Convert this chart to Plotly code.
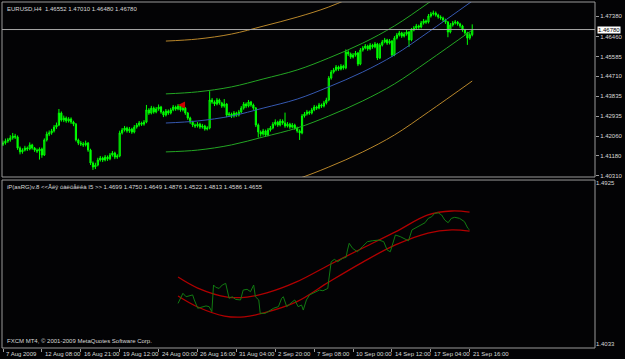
import plotly.graph_objects as go

# ---------------- data (EURUSD H4, bar index 0 = 7 Aug 2009) ----------------
opens = [
1.4170,1.4175,1.4184,1.4189,1.4198,1.4206,1.4202,1.4153,1.4136,1.4144,
1.4153,1.4149,1.4167,1.4153,1.4144,1.4140,1.4149,1.4122,1.4189,1.4215,
1.4220,1.4229,1.4246,1.4255,1.4308,1.4277,1.4286,1.4273,1.4282,1.4268,
1.4259,1.4189,1.4175,1.4171,1.4167,1.4175,1.4144,1.4087,1.4069,1.4078,
1.4100,1.4109,1.4100,1.4113,1.4105,1.4122,1.4131,1.4113,1.4118,1.4220,
1.4233,1.4242,1.4229,1.4237,1.4224,1.4246,1.4255,1.4264,1.4259,1.4268,
1.4322,1.4308,1.4330,1.4313,1.4326,1.4335,1.4313,1.4299,1.4317,1.4308,
1.4322,1.4335,1.4326,1.4339,1.4322,1.4330,1.4308,1.4286,1.4268,1.4255,
1.4251,1.4259,1.4246,1.4251,1.4237,1.4242,1.4366,1.4357,1.4348,1.4366,
1.4353,1.4339,1.4348,1.4299,1.4304,1.4295,1.4308,1.4299,1.4313,1.4330,
1.4348,1.4339,1.4357,1.4344,1.4330,1.4255,1.4224,1.4215,1.4229,1.4211,
1.4233,1.4242,1.4259,1.4268,1.4255,1.4273,1.4264,1.4251,1.4259,1.4246,
1.4255,1.4242,1.4229,1.4220,1.4295,1.4304,1.4313,1.4308,1.4322,1.4335,
1.4330,1.4344,1.4339,1.4353,1.4366,1.4463,1.4490,1.4499,1.4512,1.4503,
1.4516,1.4508,1.4578,1.4570,1.4556,1.4565,1.4574,1.4525,1.4587,1.4596,
1.4605,1.4592,1.4609,1.4601,1.4614,1.4552,1.4609,1.4623,1.4632,1.4618,
1.4627,1.4565,1.4640,1.4654,1.4663,1.4649,1.4658,1.4667,1.4632,1.4676,
1.4685,1.4694,1.4689,1.4707,1.4716,1.4711,1.4738,1.4747,1.4751,1.4742,
1.4734,1.4729,1.4720,1.4711,1.4667,1.4698,1.4707,1.4711,1.4703,1.4694,
1.4676,1.4663,1.4640,1.4655]

highs = [
1.4186,1.4195,1.4198,1.4210,1.4220,1.4216,1.4209,1.4160,1.4152,1.4163,
1.4160,1.4178,1.4172,1.4158,1.4151,1.4156,1.4155,1.4196,1.4226,1.4231,
1.4238,1.4255,1.4266,1.4326,1.4315,1.4297,1.4293,1.4290,1.4289,1.4274,
1.4264,1.4195,1.4184,1.4180,1.4186,1.4180,1.4150,1.4094,1.4088,1.4110,
1.4118,1.4115,1.4122,1.4120,1.4131,1.4140,1.4137,1.4126,1.4230,1.4242,
1.4251,1.4248,1.4246,1.4243,1.4255,1.4264,1.4273,1.4270,1.4277,1.4344,
1.4330,1.4340,1.4337,1.4335,1.4346,1.4340,1.4318,1.4326,1.4324,1.4331,
1.4344,1.4341,1.4348,1.4344,1.4339,1.4335,1.4313,1.4292,1.4274,1.4262,
1.4268,1.4265,1.4260,1.4256,1.4250,1.4405,1.4375,1.4364,1.4375,1.4372,
1.4358,1.4370,1.4352,1.4313,1.4310,1.4317,1.4314,1.4322,1.4339,1.4357,
1.4355,1.4366,1.4362,1.4350,1.4335,1.4262,1.4231,1.4238,1.4235,1.4242,
1.4251,1.4268,1.4280,1.4274,1.4282,1.4280,1.4310,1.4268,1.4265,1.4264,
1.4261,1.4248,1.4236,1.4304,1.4313,1.4322,1.4319,1.4331,1.4344,1.4341,
1.4353,1.4350,1.4362,1.4376,1.4472,1.4499,1.4508,1.4521,1.4518,1.4525,
1.4522,1.4590,1.4586,1.4576,1.4574,1.4583,1.4579,1.4596,1.4605,1.4614,
1.4611,1.4618,1.4615,1.4623,1.4619,1.4618,1.4632,1.4641,1.4637,1.4636,
1.4632,1.4649,1.4663,1.4672,1.4668,1.4667,1.4676,1.4672,1.4685,1.4694,
1.4703,1.4700,1.4716,1.4725,1.4722,1.4747,1.4756,1.4762,1.4758,1.4748,
1.4741,1.4735,1.4726,1.4716,1.4707,1.4716,1.4720,1.4716,1.4708,1.4699,
1.4681,1.4668,1.4664,1.4701]

lows = [
1.4162,1.4168,1.4176,1.4181,1.4190,1.4193,1.4145,1.4125,1.4128,1.4138,
1.4140,1.4143,1.4146,1.4136,1.4131,1.4102,1.4110,1.4118,1.4182,1.4206,
1.4212,1.4222,1.4238,1.4250,1.4270,1.4268,1.4265,1.4266,1.4260,1.4250,
1.4182,1.4166,1.4162,1.4158,1.4160,1.4136,1.4078,1.4056,1.4060,1.4072,
1.4093,1.4091,1.4094,1.4096,1.4099,1.4115,1.4104,1.4105,1.4112,1.4213,
1.4226,1.4221,1.4220,1.4216,1.4218,1.4239,1.4248,1.4251,1.4252,1.4263,
1.4300,1.4302,1.4305,1.4307,1.4318,1.4305,1.4290,1.4293,1.4300,1.4302,
1.4316,1.4318,1.4320,1.4314,1.4315,1.4300,1.4278,1.4260,1.4246,1.4242,
1.4244,1.4238,1.4239,1.4230,1.4231,1.4236,1.4349,1.4339,1.4342,1.4345,
1.4331,1.4332,1.4290,1.4292,1.4286,1.4288,1.4291,1.4293,1.4307,1.4323,
1.4330,1.4333,1.4336,1.4322,1.4246,1.4200,1.4204,1.4208,1.4202,1.4205,
1.4226,1.4236,1.4252,1.4247,1.4249,1.4256,1.4243,1.4244,1.4238,1.4240,
1.4234,1.4221,1.4189,1.4214,1.4288,1.4297,1.4300,1.4302,1.4316,1.4322,
1.4325,1.4331,1.4333,1.4346,1.4360,1.4456,1.4483,1.4493,1.4495,1.4497,
1.4500,1.4502,1.4561,1.4548,1.4550,1.4558,1.4516,1.4520,1.4580,1.4590,
1.4584,1.4586,1.4593,1.4595,1.4543,1.4547,1.4603,1.4617,1.4610,1.4612,
1.4556,1.4560,1.4634,1.4647,1.4641,1.4643,1.4651,1.4601,1.4626,1.4670,
1.4679,1.4681,1.4683,1.4700,1.4703,1.4705,1.4731,1.4740,1.4735,1.4726,
1.4721,1.4712,1.4703,1.4644,1.4661,1.4691,1.4700,1.4695,1.4686,1.4668,
1.4655,1.4610,1.4633,1.4648]

closes = [
1.4175,1.4184,1.4189,1.4198,1.4206,1.4202,1.4153,1.4136,1.4144,1.4153,
1.4149,1.4167,1.4153,1.4144,1.4140,1.4149,1.4122,1.4189,1.4215,1.4220,
1.4229,1.4246,1.4255,1.4308,1.4277,1.4286,1.4273,1.4282,1.4268,1.4259,
1.4189,1.4175,1.4171,1.4167,1.4175,1.4144,1.4087,1.4069,1.4078,1.4100,
1.4109,1.4100,1.4113,1.4105,1.4122,1.4131,1.4113,1.4118,1.4220,1.4233,
1.4242,1.4229,1.4237,1.4224,1.4246,1.4255,1.4264,1.4259,1.4268,1.4322,
1.4308,1.4330,1.4313,1.4326,1.4335,1.4313,1.4299,1.4317,1.4308,1.4322,
1.4335,1.4326,1.4339,1.4322,1.4330,1.4308,1.4286,1.4268,1.4255,1.4251,
1.4259,1.4246,1.4251,1.4237,1.4242,1.4366,1.4357,1.4348,1.4366,1.4353,
1.4339,1.4348,1.4299,1.4304,1.4295,1.4308,1.4299,1.4313,1.4330,1.4348,
1.4339,1.4357,1.4344,1.4330,1.4255,1.4224,1.4215,1.4229,1.4211,1.4233,
1.4242,1.4259,1.4268,1.4255,1.4273,1.4264,1.4251,1.4259,1.4246,1.4255,
1.4242,1.4229,1.4220,1.4295,1.4304,1.4313,1.4308,1.4322,1.4335,1.4330,
1.4344,1.4339,1.4353,1.4366,1.4463,1.4490,1.4499,1.4512,1.4503,1.4516,
1.4508,1.4578,1.4570,1.4556,1.4565,1.4574,1.4525,1.4587,1.4596,1.4605,
1.4592,1.4609,1.4601,1.4614,1.4552,1.4609,1.4623,1.4632,1.4618,1.4627,
1.4565,1.4640,1.4654,1.4663,1.4649,1.4658,1.4667,1.4632,1.4676,1.4685,
1.4694,1.4689,1.4707,1.4716,1.4711,1.4738,1.4747,1.4751,1.4742,1.4734,
1.4729,1.4720,1.4711,1.4667,1.4698,1.4707,1.4711,1.4703,1.4694,1.4676,
1.4663,1.4640,1.4655,1.4678]

bars = list(range(len(closes)))

# regression channel (main window), read at bar indices
chan_bars = [67, 80, 94, 107, 121, 134, 148, 161, 175, 193]
chan_mid  = [1.4264, 1.4273, 1.4295, 1.4330, 1.4370, 1.4424, 1.4490, 1.4565, 1.4667, 1.4804]
chan_up1  = [1.4393, 1.4402, 1.4424, 1.4459, 1.4499, 1.4552, 1.4618, 1.4694, 1.4796, 1.4933]
chan_lo1  = [1.4136, 1.4144, 1.4167, 1.4202, 1.4242, 1.4295, 1.4362, 1.4437, 1.4539, 1.4676]
chan_up2  = [1.4627, 1.4636, 1.4658, 1.4693, 1.4733, 1.4778, 1.4844, 1.4920, 1.5021, 1.5159]
chan_lo2  = [1.3910, 1.3919, 1.3941, 1.3976, 1.4016, 1.4069, 1.4136, 1.4211, 1.4313, 1.4450]

arrow_bar, arrow_price = 72, 1.4344

# sub-window indicator
sub_bars = [72.0,73.3,74.0,75.3,76.7,78.0,78.7,80.1,81.4,83.5,84.8,85.9,86.6,87.5,88.9,90.2,91.6,92.3,93.0,94.3,
            95.7,97.7,98.8,100.4,101.8,103.1,103.8,105.2,105.8,107.9,109.9,111.3,113.3,114.6,115.3,116.7,118.0,120.0,121.4,122.8,
            123.5,124.8,126.1,127.5,128.9,130.2,131.6,133.6,134.0,135.0,136.3,137.7,139.7,141.1,141.7,142.4,143.8,145.8,147.8,149.9,
            151.9,154.6,156.6,158.0,159.3,160.7,161.4,163.4,166.1,166.8,168.2,169.5,171.5,173.6,174.9,176.3,177.6,179.0,180.4,181.7,
            183.1,184.4,185.8,187.8,189.8,191.2,191.9]
sub_vals = [1.4258,1.4295,1.4314,1.4295,1.4299,1.4305,1.4277,1.4231,1.4236,1.4244,1.4240,1.4212,1.4360,1.4347,1.4341,1.4360,1.4369,1.4323,1.4286,1.4295,
            1.4280,1.4277,1.4332,1.4336,1.4323,1.4360,1.4295,1.4277,1.4203,1.4203,1.4221,1.4231,1.4240,1.4286,1.4295,1.4240,1.4255,1.4277,1.4240,1.4249,
            1.4221,1.4277,1.4305,1.4314,1.4323,1.4332,1.4328,1.4341,1.4388,1.4489,1.4502,1.4489,1.4508,1.4513,1.4554,1.4591,1.4563,1.4544,1.4572,1.4600,
            1.4605,1.4609,1.4600,1.4554,1.4544,1.4609,1.4637,1.4628,1.4613,1.4605,1.4665,1.4674,1.4692,1.4705,1.4729,1.4738,1.4757,1.4760,1.4748,1.4720,
            1.4705,1.4729,1.4735,1.4729,1.4711,1.4674,1.4665]

band_bars_up = [72, 80.1, 92.3, 100.4, 108.5, 120.7, 134.1, 148, 161.4, 174.8, 184.6, 191.9]
band_up      = [1.4404, 1.4343, 1.4293, 1.4293, 1.4316, 1.4377, 1.4471, 1.4565, 1.4654, 1.4748, 1.4770, 1.4764]
band_bars_lo = [72, 80.1, 91.1, 99.2, 107.3, 120.7, 134.1, 148, 161.4, 174.8, 184.6, 191.9]
band_lo      = [1.4299, 1.4238, 1.4188, 1.4183, 1.4205, 1.4266, 1.4377, 1.4487, 1.4582, 1.4648, 1.4665, 1.4659]

main_ticks = [1.47380, 1.46460, 1.45585, 1.44710, 1.43835, 1.42935, 1.42060, 1.41180, 1.40310]
sub_ticks = [1.4925, 1.4033]
time_tick_bars = [0, 16, 32, 48, 64, 80, 96, 112, 128, 144, 160, 176, 192]
time_labels = ["7 Aug 2009", "12 Aug 08:00", "16 Aug 21:00", "19 Aug 12:00", "24 Aug 00:00",
               "26 Aug 16:00", "31 Aug 04:00", "2 Sep 20:00", "7 Sep 08:00", "10 Sep 00:00",
               "14 Sep 12:00", "17 Sep 04:00", "21 Sep 16:00"]
bid_price = 1.46780

# ---------------- figure ----------------
FONT = "Liberation Sans"
TXT = "#d8d8d8"
GRID = "#9a9a9a"

fig = go.Figure()

fig.add_trace(go.Candlestick(
    x=bars, open=opens, high=highs, low=lows, close=closes,
    increasing=dict(line=dict(color="#00ff00", width=1), fillcolor="#008800"),
    decreasing=dict(line=dict(color="#00ff00", width=1), fillcolor="#00ff00"),
    whiskerwidth=0, xaxis="x", yaxis="y", showlegend=False, hoverinfo="skip"))

def chan(y, color):
    fig.add_trace(go.Scatter(x=chan_bars, y=y, mode="lines", line=dict(color=color, width=1, shape="spline"),
                             xaxis="x", yaxis="y", showlegend=False, hoverinfo="skip"))

chan(chan_up2, "#b8862a")
chan(chan_lo2, "#b8862a")
chan(chan_up1, "#23a523")
chan(chan_lo1, "#23a523")
chan(chan_mid, "#3558b0")

fig.add_trace(go.Scatter(x=[arrow_bar], y=[arrow_price], mode="markers",
                         marker=dict(symbol="arrow-left", size=7, color="#d00000"),
                         xaxis="x", yaxis="y", showlegend=False, hoverinfo="skip"))

fig.add_trace(go.Scatter(x=band_bars_up, y=band_up, mode="lines", line=dict(color="#b00000", width=1.3, shape="spline"),
                         xaxis="x2", yaxis="y2", showlegend=False, hoverinfo="skip"))
fig.add_trace(go.Scatter(x=band_bars_lo, y=band_lo, mode="lines", line=dict(color="#b00000", width=1.3, shape="spline"),
                         xaxis="x2", yaxis="y2", showlegend=False, hoverinfo="skip"))
fig.add_trace(go.Scatter(x=sub_bars, y=sub_vals, mode="lines", line=dict(color="#117a11", width=1),
                         xaxis="x2", yaxis="y2", showlegend=False, hoverinfo="skip"))

xr = [-0.41, 243.5]
main_dom = [0.4942, 1.0]
sub_dom = [0.0, 0.4855]

fig.update_layout(
    width=625, height=359,
    margin=dict(l=2, r=23, t=2, b=11, pad=0),
    paper_bgcolor="#030305", plot_bgcolor="#030305",
    showlegend=False,
    font=dict(family=FONT, size=6, color=TXT),
    xaxis=dict(domain=[0, 1], range=xr, anchor="y", showticklabels=False, showgrid=False,
               zeroline=False, ticks="", rangeslider=dict(visible=False), fixedrange=True),
    yaxis=dict(domain=main_dom, range=[1.40248, 1.4800], side="right", anchor="x",
               tickvals=main_ticks, ticktext=[f"{v:.5f}" for v in main_ticks],
               ticks="outside", ticklen=3, tickcolor=GRID, showgrid=False, zeroline=False,
               tickfont=dict(family=FONT, size=6, color=TXT)),
    xaxis2=dict(domain=[0, 1], range=xr, anchor="y2", tickvals=time_tick_bars, ticks="outside",
                ticklen=3, tickcolor=GRID, showticklabels=False, showgrid=False, zeroline=False),
    yaxis2=dict(domain=sub_dom, range=[1.40109, 1.49416], side="right", anchor="x2",
                tickvals=sub_ticks, ticktext=[f"{v:.4f}" for v in sub_ticks],
                ticks="", showgrid=False, zeroline=False,
                tickfont=dict(family=FONT, size=6, color=TXT)),
)

shapes = [
    dict(type="rect", xref="paper", yref="paper", x0=0, x1=1, y0=main_dom[0], y1=main_dom[1],
         line=dict(color=GRID, width=1)),
    dict(type="rect", xref="paper", yref="paper", x0=0, x1=1, y0=sub_dom[0], y1=sub_dom[1],
         line=dict(color=GRID, width=1)),
    dict(type="line", xref="paper", yref="y", x0=0, x1=1, y0=bid_price, y1=bid_price,
         line=dict(color="#a8a8a8", width=1)),
]
fig.update_layout(shapes=shapes)

ann = [
    dict(text="EURUSD,H4  1.46552 1.47010 1.46480 1.46780", xref="paper", yref="paper", x=0, y=1,
         xanchor="left", yanchor="top", xshift=3, yshift=-2, showarrow=False),
    dict(text="iP(asRG)v.8 <<Âëÿ óàëöåëêà I5 >> 1.4699 1.4750 1.4649 1.4876 1.4522 1.4813 1.4586 1.4655",
         xref="paper", yref="paper", x=0, y=sub_dom[1], xanchor="left", yanchor="top",
         xshift=3, yshift=-2, showarrow=False),
    dict(text="FXCM MT4, © 2001-2009 MetaQuotes Software Corp.", xref="paper", yref="paper", x=0, y=0,
         xanchor="left", yanchor="bottom", xshift=3, yshift=2, showarrow=False),
    dict(text=f"{bid_price:.5f}", xref="paper", yref="y", x=1, y=bid_price, xanchor="left", yanchor="middle",
         xshift=2, showarrow=False, bgcolor="#ffffff", font=dict(color="#000000", size=6, family=FONT),
         borderpad=0),
]
for b, lab in zip(time_tick_bars, time_labels):
    ann.append(dict(text=lab, xref="x2", yref="paper", x=b, y=0, xanchor="left", yanchor="top",
                    xshift=1, yshift=-1, showarrow=False))
fig.update_layout(annotations=ann)

fig.write_html("out.html")
